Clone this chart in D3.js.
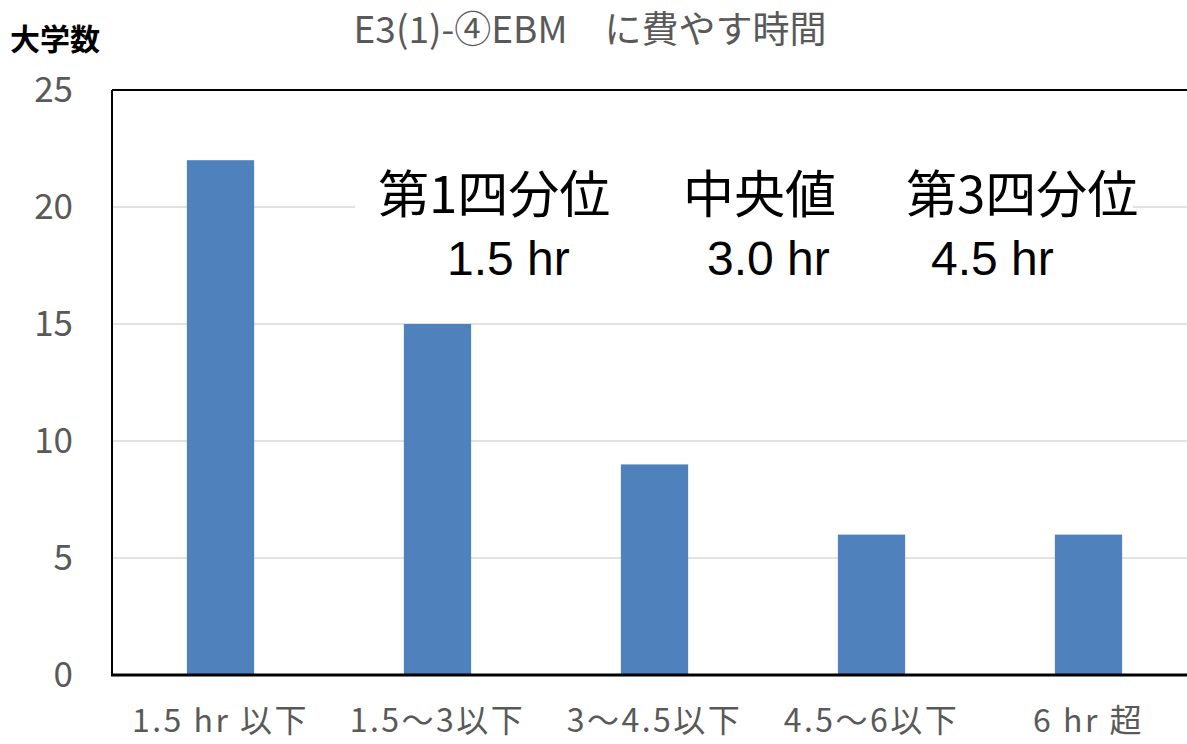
<!DOCTYPE html>
<html><head><meta charset="utf-8">
<script src="https://cdn.jsdelivr.net/npm/d3@7"></script>
<style>html,body{margin:0;padding:0;background:#fff;overflow:hidden}</style>
</head><body>
<svg id="c" width="1187" height="744"></svg>
<script>
const categories = ["1.5 hr 以下", "1.5〜3以下", "3〜4.5以下", "4.5〜6以下", "6 hr 超"];
const values = [22, 15, 9, 6, 6];
const yTicks = [0, 5, 10, 15, 20, 25];
const title = "E3(1)-④EBM　に費やす時間";
const yLabel = "大学数";
const statLabels = ["第1四分位", "中央値", "第3四分位"];
const statValues = ["1.5 hr", "3.0 hr", "4.5 hr"];

const svg = d3.select("#c");
const m = {left: 112, top: 90, bottom: 675, right: 1197};
const x = d3.scaleBand().domain(categories).range([m.left, m.right]).paddingInner(0.69).paddingOuter(0.345);
const y = d3.scaleLinear().domain([0, 25]).range([m.bottom, m.top]);
const font = "'Noto Sans CJK JP','Noto Sans',sans-serif";

// gridlines
svg.append("g").selectAll("line").data(yTicks.filter(d => d > 0 && d < 25)).join("line")
  .attr("x1", m.left).attr("x2", m.right).attr("y1", d => y(d)).attr("y2", d => y(d))
  .attr("stroke", "#d9d9d9").attr("stroke-width", 1.5);

// bars
svg.append("g").selectAll("rect").data(values).join("rect")
  .attr("x", (d, i) => x(categories[i])).attr("width", x.bandwidth())
  .attr("y", d => y(d)).attr("height", d => y(0) - y(d))
  .attr("fill", "#4f81bd");

// axes frame: left, top, bottom
svg.append("line").attr("x1", m.left).attr("x2", m.left).attr("y1", m.top).attr("y2", m.bottom)
  .attr("stroke", "#000").attr("stroke-width", 2);
svg.append("line").attr("x1", m.left).attr("x2", m.right).attr("y1", m.top).attr("y2", m.top)
  .attr("stroke", "#000").attr("stroke-width", 2);
svg.append("line").attr("x1", m.left - 1).attr("x2", m.right).attr("y1", m.bottom).attr("y2", m.bottom)
  .attr("stroke", "#000").attr("stroke-width", 3);

// y tick labels
svg.append("g").selectAll("text").data(yTicks).join("text")
  .attr("x", 73).attr("y", d => y(d)).attr("dy", "0.35em")
  .attr("text-anchor", "end").attr("fill", "#595959")
  .style("font-family", font).style("font-size", "35px").text(d => d);

// x labels
svg.append("g").selectAll("text").data(categories).join("text")
  .attr("x", d => x(d) + x.bandwidth() / 2).attr("y", 721).attr("dy", "0.35em")
  .attr("text-anchor", "middle").attr("fill", "#595959")
  .style("font-family", font).style("font-size", "32px").style("letter-spacing", "2.5px").text(d => d);

// title
svg.append("text").attr("x", 590).attr("y", 30).attr("dy", "0.35em")
  .attr("text-anchor", "middle").attr("fill", "#595959")
  .style("font-family", font).style("font-size", "37px").text(title);

// y label
svg.append("text").attr("x", 10).attr("y", 39).attr("dy", "0.35em")
  .attr("fill", "#000").style("font-weight", "bold")
  .style("font-family", font).style("font-size", "30px").text(yLabel);

// annotation box
svg.append("rect").attr("x", 355).attr("y", 165).attr("width", 778).attr("height", 122).attr("fill", "#fff");
const lx = [378, 683, 906];
const vx = [447, 707, 931];
const ann = svg.append("g").style("font-family", "'Noto Sans CJK JP',sans-serif").attr("fill", "#000");
ann.selectAll("text.l").data(statLabels).join("text").attr("class", "l")
  .attr("x", (d, i) => lx[i]).attr("y", 195).attr("dy", "0.36em")
  .style("font-size", "51px").text(d => d);
ann.selectAll("text.v").data(statValues).join("text").attr("class", "v")
  .attr("x", (d, i) => vx[i]).attr("y", 258).attr("dy", "0.36em")
  .style("font-family", "'Liberation Sans',Arial,sans-serif")
  .style("font-size", "48px").text(d => d);
</script>
</body></html>
